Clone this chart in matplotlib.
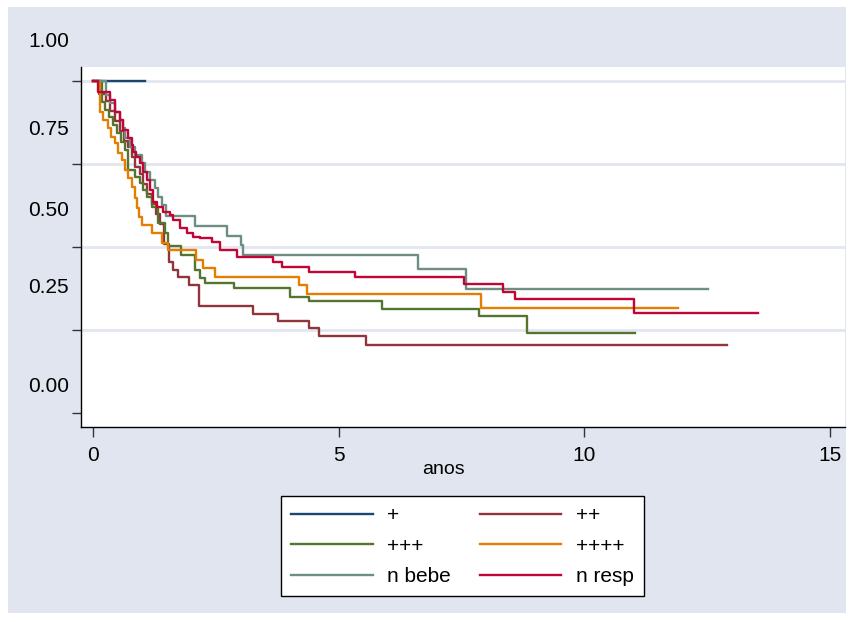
import matplotlib.pyplot as plt
from matplotlib.patches import Rectangle

plt.rcParams['font.family'] = ['Liberation Sans', 'DejaVu Sans']

# Kaplan-Meier steps: time in anos, survival
t_p1 = [0, 1.06]
s_p1 = [1.0, 1.0]

t_p2 = [0, 0.12, 0.25, 0.34, 0.45, 0.55, 0.62, 0.71, 0.78, 0.85, 0.95, 1.02, 1.10,
        1.19, 1.28, 1.36, 1.45, 1.55, 1.63, 1.72, 1.94, 2.16, 3.25, 3.76, 4.40,
        4.60, 5.55, 12.91]
s_p2 = [1.0, 0.96, 0.94, 0.91, 0.88, 0.85, 0.82, 0.80, 0.77, 0.74, 0.72, 0.69, 0.66,
        0.63, 0.60, 0.57, 0.51, 0.456, 0.431, 0.411, 0.386, 0.322, 0.300, 0.278, 0.257,
        0.234, 0.206, 0.206]

t_p3 = [0, 0.17, 0.24, 0.32, 0.41, 0.48, 0.56, 0.65, 0.71, 0.85, 0.95, 1.02, 1.10,
        1.19, 1.32, 1.46, 1.53, 1.78, 2.07, 2.17, 2.27, 2.87, 4.01, 4.40, 5.89, 7.86,
        8.84, 11.03]
s_p3 = [1.0, 0.937, 0.912, 0.892, 0.867, 0.842, 0.817, 0.792, 0.731, 0.711, 0.692,
        0.671, 0.65, 0.62, 0.572, 0.541, 0.503, 0.476, 0.431, 0.407, 0.391, 0.376,
        0.351, 0.337, 0.314, 0.293, 0.242, 0.242]

t_p4 = [0, 0.13, 0.20, 0.29, 0.37, 0.44, 0.51, 0.58, 0.65, 0.71, 0.78, 0.85, 0.89,
        0.94, 0.99, 1.19, 1.39, 1.53, 2.09, 2.23, 2.48, 4.20, 4.35, 7.90, 11.91]
s_p4 = [1.0, 0.907, 0.882, 0.857, 0.832, 0.812, 0.782, 0.762, 0.731, 0.707, 0.681,
        0.646, 0.616, 0.591, 0.566, 0.541, 0.513, 0.491, 0.461, 0.436, 0.409, 0.387,
        0.359, 0.317, 0.317]

t_nbebe = [0, 0.25, 0.34, 0.44, 0.54, 0.60, 0.65, 0.75, 0.85, 0.99, 1.05, 1.15, 1.26,
           1.32, 1.40, 1.49, 2.07, 2.72, 3.00, 3.05, 6.62, 7.60, 12.51]
s_nbebe = [1.0, 0.957, 0.932, 0.907, 0.882, 0.857, 0.827, 0.802, 0.777, 0.752, 0.726,
           0.701, 0.676, 0.651, 0.626, 0.594, 0.564, 0.534, 0.506, 0.476, 0.433, 0.374,
           0.374]

t_nresp = [0, 0.10, 0.34, 0.44, 0.54, 0.61, 0.71, 0.78, 0.81, 0.88, 0.95, 1.02, 1.09,
           1.15, 1.22, 1.29, 1.43, 1.56, 1.63, 1.77, 1.90, 2.04, 2.17, 2.41, 2.58,
           2.92, 3.67, 3.85, 4.40, 5.34, 7.55, 8.35, 8.59, 11.01, 13.54]
s_nresp = [1.0, 0.967, 0.942, 0.907, 0.882, 0.852, 0.827, 0.807, 0.787, 0.772, 0.752,
           0.726, 0.701, 0.671, 0.636, 0.621, 0.606, 0.596, 0.581, 0.556, 0.541, 0.531,
           0.526, 0.516, 0.491, 0.469, 0.454, 0.439, 0.424, 0.409, 0.388, 0.366, 0.344,
           0.301, 0.301]

series = [
    ("+", t_p1, s_p1, "#1a476f"),
    ("++", t_p2, s_p2, "#90353b"),
    ("+++", t_p3, s_p3, "#55752f"),
    ("++++", t_p4, s_p4, "#e37e00"),
    ("n bebe", t_nbebe, s_nbebe, "#6e8e84"),
    ("n resp", t_nresp, s_nresp, "#c10534"),
]

y_ticks = [0.0, 0.25, 0.50, 0.75, 1.00]
y_ticklabels = ["0.00", "0.25", "0.50", "0.75", "1.00"]
y_label_pos = [0.080, 0.377, 0.609, 0.852, 1.117]
x_ticks = [0, 5, 10, 15]

bg = "#e0e5ef"

fig = plt.figure(figsize=(8.57, 6.22), dpi=100, facecolor="white")
fig.patches.append(Rectangle((8 / 857, 1 - 613 / 622), 838 / 857, 606 / 622,
                             transform=fig.transFigure, facecolor=bg,
                             edgecolor="none", zorder=-10))

ax = fig.add_axes([81 / 857, 1 - 427 / 622, 764 / 857, 360.3 / 622])
ax.set_facecolor("white")

for g in [0.25, 0.5, 0.75, 1.0]:
    ax.axhline(g, color="#e2e6f0", lw=2, zorder=1)

lines = {}
for name, t, s, c in series:
    (ln,) = ax.step(t, s, where="post", color=c, lw=1.7, label=name, zorder=3)
    lines[name] = ln

ax.set_xlim(-0.25, 15.31)
ax.set_ylim(-0.041, 1.042)

for side in ["top", "right"]:
    ax.spines[side].set_visible(False)
for side in ["left", "bottom"]:
    ax.spines[side].set_color("black")
    ax.spines[side].set_linewidth(1.0)

ax.set_xticks(x_ticks)
ax.set_xticklabels([str(v) for v in x_ticks], fontsize=15)
ax.tick_params(axis="x", length=7.5, width=1, color="#333333", pad=6)

ax.set_yticks(y_ticks)
ax.set_yticklabels([])
ax.tick_params(axis="y", length=6.5, width=1, color="#333333")
for lab, yp in zip(y_ticklabels, y_label_pos):
    ax.text(-0.016, yp, lab, transform=ax.get_yaxis_transform(), ha="right",
            va="center", fontsize=15, color="black")

ax.set_xlabel("anos", fontsize=14)
ax.xaxis.set_label_coords(0.474, -0.095)

order = ["+", "+++", "n bebe", "++", "++++", "n resp"]
leg = fig.legend([lines[n] for n in order], order, loc="center",
                 bbox_to_anchor=(462.5 / 857, 1 - 546 / 622), ncol=2,
                 fontsize=15, frameon=True, fancybox=False, framealpha=1,
                 edgecolor="black", facecolor="white", handlelength=3.9,
                 handletextpad=0.7, columnspacing=1.4, labelspacing=0.55,
                 borderpad=0.5)
leg.get_frame().set_linewidth(1.0)
for h in leg.get_lines():
    h.set_linewidth(1.7)

fig.savefig("out.png", dpi=100, facecolor="white")
